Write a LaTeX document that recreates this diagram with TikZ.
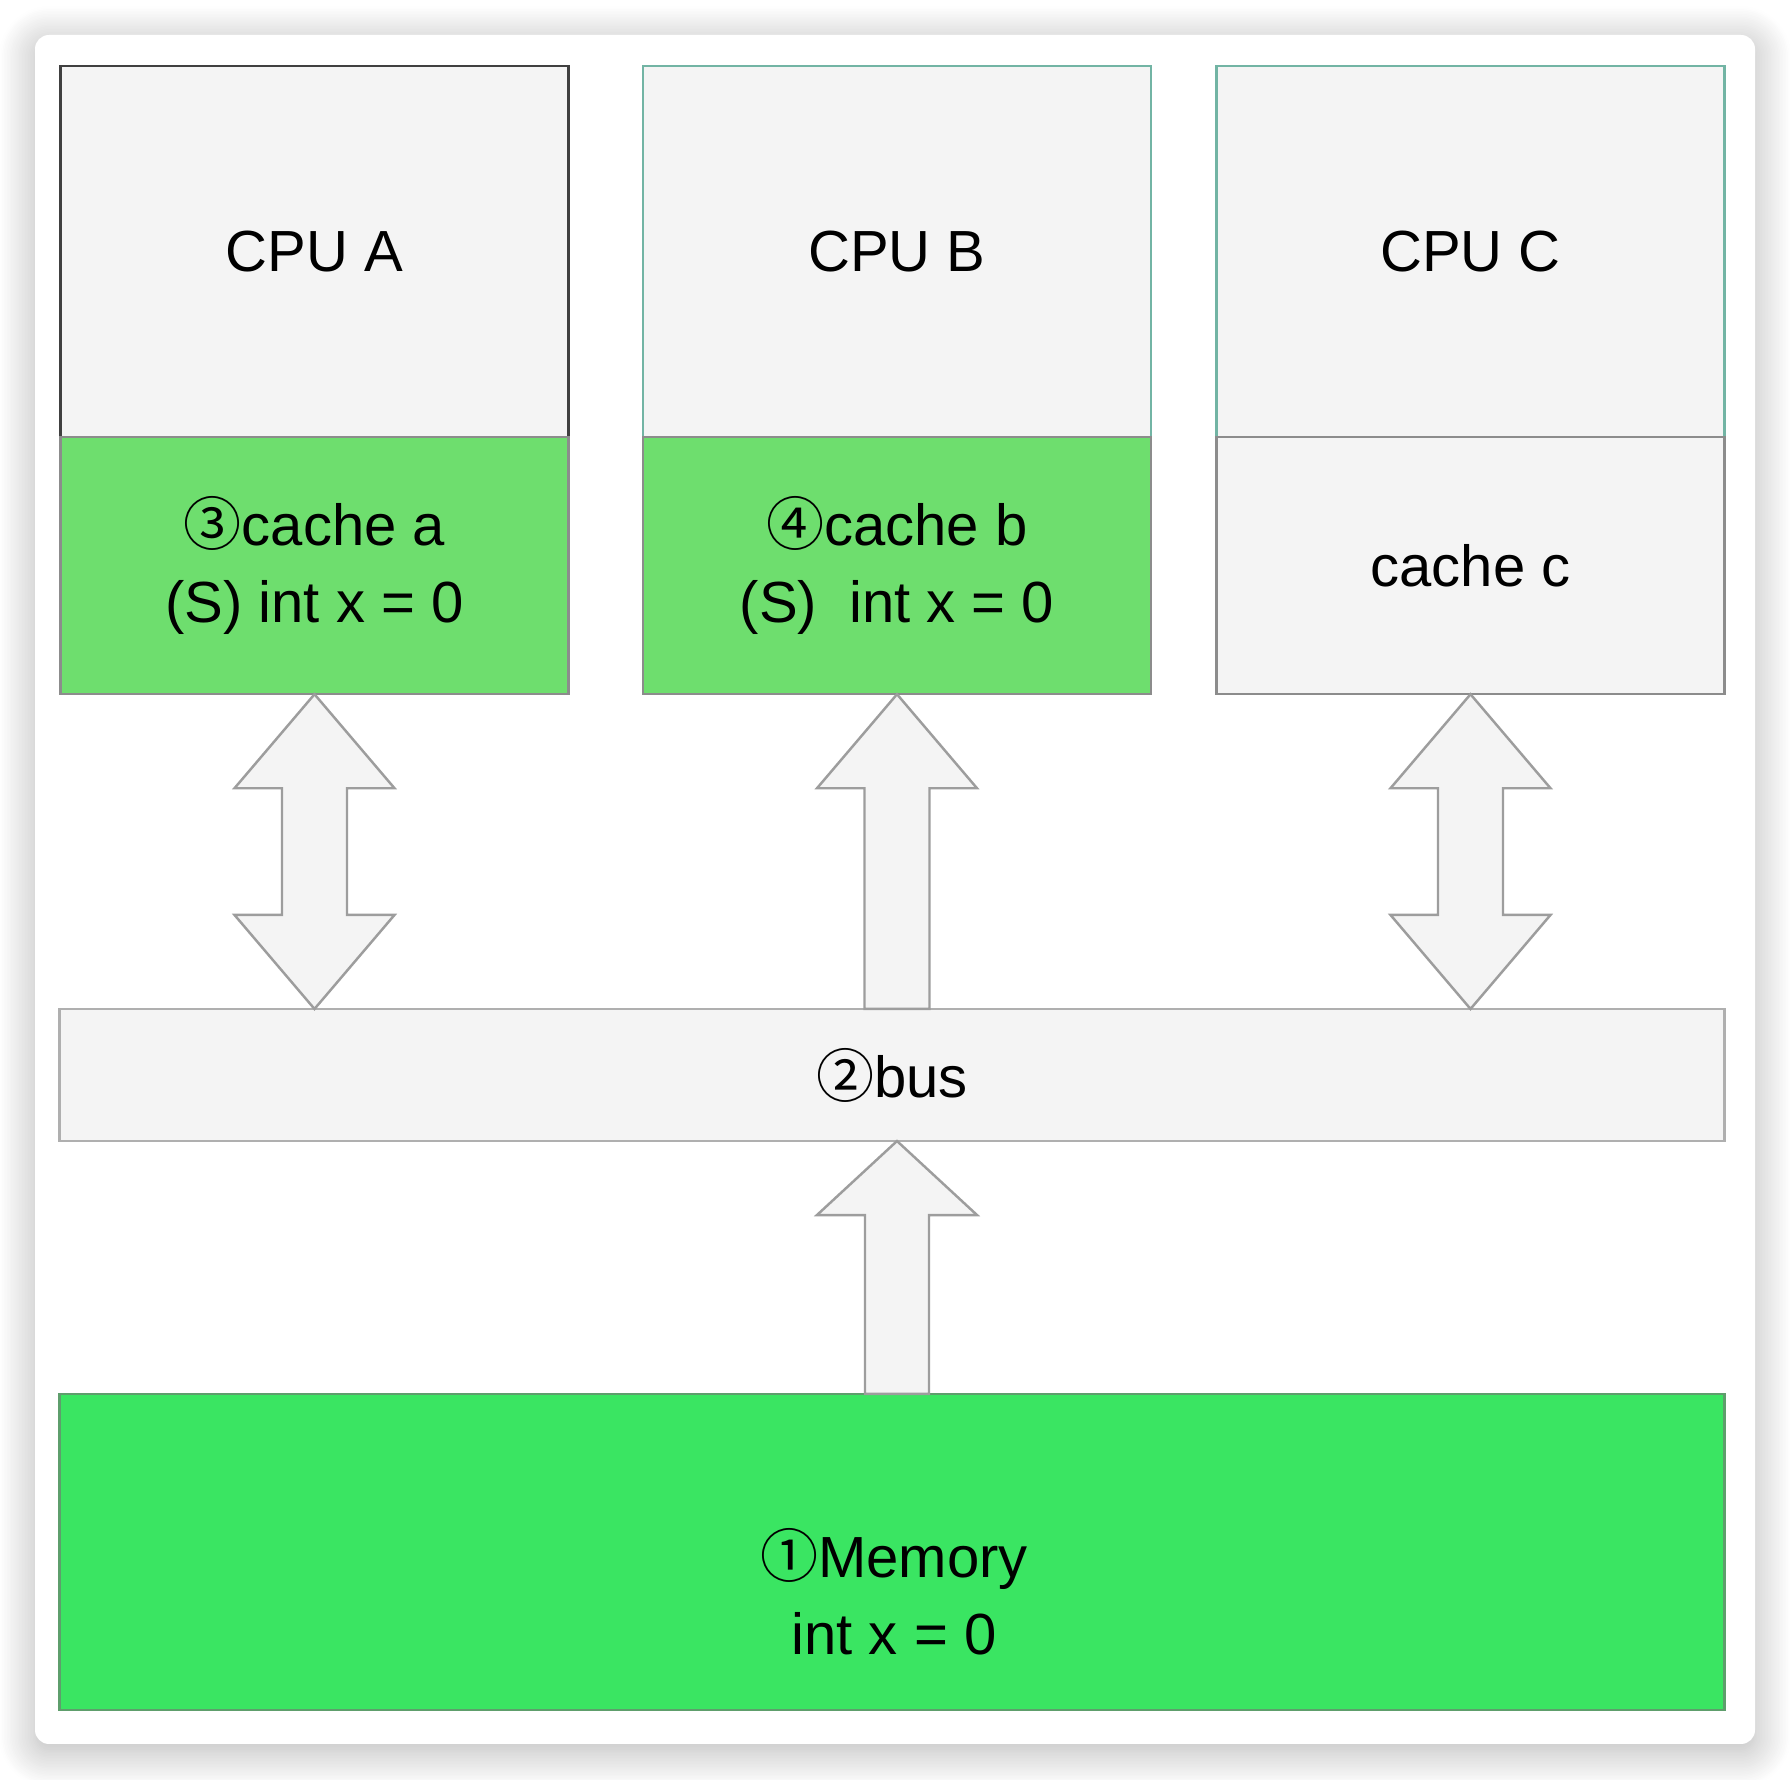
\documentclass[tikz,border=0pt]{standalone}
\usepackage{fontspec}
\setmainfont{Liberation Sans}
\newfontfamily\circfont{Noto Sans CJK SC}
\usetikzlibrary{positioning,calc,shadows.blur}

\definecolor{boxgray}{HTML}{F4F4F4}
\definecolor{cachegreen}{HTML}{6EDE6E}
\definecolor{memgreen}{HTML}{3AE562}
\definecolor{tealline}{HTML}{72B4A4}
\definecolor{edgegray}{HTML}{8C8C8C}
\definecolor{memline}{HTML}{5E9E6C}

\newcommand{\circnum}[1]{{\circfont #1}}

\tikzset{
  base/.style={rectangle, inner sep=0pt, outer sep=0pt, line width=0.7pt, align=center,
    font=\fontsize{16.5}{22}\selectfont},
  cpubox/.style={base, draw=tealline, fill=boxgray, minimum width=5.08cm, minimum height=3.71cm},
  cachebox/.style={base, draw=edgegray, fill=cachegreen, minimum width=5.08cm, minimum height=2.57cm},
  wide/.style={base, minimum width=16.64cm},
  blockarrow/.style={draw=edgegray!85, fill=boxgray, line width=0.7pt},
}

\begin{document}
\begin{tikzpicture}[x=0.01cm,y=-0.01cm]
    \useasboundingbox (0,0) rectangle (1790,1780);
    % card
    \fill[white, rounded corners=0.14cm,
      blur shadow={shadow blur radius=0.36cm, shadow blur steps=24, shadow xshift=0cm,
        shadow yshift=-0.07cm, shadow opacity=30}]
      (35,35) rectangle (1755,1744);

    % cpus and caches
    \node[cpubox, draw=black!75] (cpuA) at (314.5,251.5) {CPU A};
    \node[cpubox] (cpuB) at (897,251.5) {CPU B};
    \node[cpubox] (cpuC) at (1470.5,251.5) {CPU C};
    \node[cachebox, below=0pt of cpuA] (cacheA) {\circnum{③}cache a\\(S) int x = 0};
    \node[cachebox, below=0pt of cpuB] (cacheB) {\circnum{④}cache b\\(S)~~int x = 0};
    \node[cachebox, fill=boxgray, below=0pt of cpuC] (cacheC) {cache c};

    % bus and memory
    \node[wide, draw=edgegray!70, fill=boxgray, minimum height=1.32cm] (bus) at (892,1075) {\circnum{②}bus};
    \node[wide, draw=memline, fill=memgreen, minimum height=3.16cm] (mem) at (892,1552) {};
    \node[base] (memtxt) at ($(mem.center)+(2,40)$) {\circnum{①}Memory\\int x = 0};

    % arrows
    \foreach \c in {cacheA,cacheC}
      \draw[blockarrow] (\c.south) -- ++(80,94) -- ++(-47.5,0)
        -- ($(\c.south |- bus.north)+(32.5,-94)$) -- ++(47.5,0)
        -- (\c.south |- bus.north) -- ++(-80,-94) -- ++(47.5,0)
        -- ($(\c.south)+(-32.5,94)$) -- ++(-47.5,0) -- cycle;
    \draw[blockarrow] (cacheB.south) -- ++(80,94) -- ++(-47.5,0)
      -- ($(cacheB.south |- bus.north)+(32.5,0)$) -- ++(-65,0)
      -- ($(cacheB.south)+(-32.5,94)$) -- ++(-47.5,0) -- cycle;
    \draw[blockarrow] (cacheB.south |- bus.south) -- ++(80,74) -- ++(-48,0)
      -- ($(cacheB.south |- mem.north)+(32,0)$) -- ++(-64,0)
      -- ($(cacheB.south |- bus.south)+(-32,74)$) -- ++(-48,0) -- cycle;
\end{tikzpicture}
\end{document}
